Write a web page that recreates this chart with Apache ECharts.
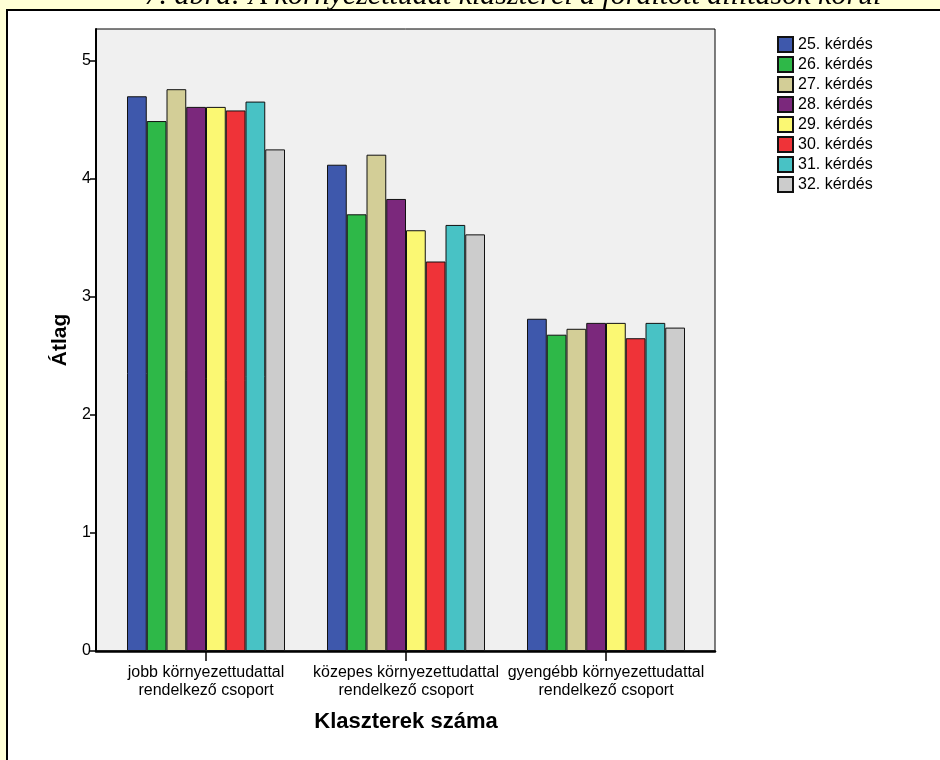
<!DOCTYPE html>
<html>
<head>
<meta charset="utf-8">
<script src="https://cdn.jsdelivr.net/npm/echarts@6/dist/echarts.min.js"></script>
<style>
html,body{margin:0;padding:0;background:#FFFFD6;}
#chart{width:940px;height:760px;}
</style>
</head>
<body>
<div id="chart"></div>
<script>
var titleText = '7. ábra: A környezettudat klaszterei a fordított állítások körül';
var categories = ['jobb környezettudattal\nrendelkező csoport', 'közepes környezettudattal\nrendelkező csoport', 'gyengébb környezettudattal\nrendelkező csoport'];
var seriesNames = ['25. kérdés','26. kérdés','27. kérdés','28. kérdés','29. kérdés','30. kérdés','31. kérdés','32. kérdés'];
var q25 = [4.70, 4.12, 2.815];
var q26 = [4.49, 3.70, 2.68];
var q27 = [4.76, 4.205, 2.73];
var q28 = [4.61, 3.83, 2.78];
var q29 = [4.61, 3.565, 2.78];
var q30 = [4.58, 3.30, 2.65];
var q31 = [4.655, 3.61, 2.78];
var q32 = [4.25, 3.53, 2.74];
var yTicks = [0, 1, 2, 3, 4, 5];
var yMax = 5.27;
var colors = ['#3E58AC','#2EB848','#D3CE97','#7B287C','#FBF873','#EF3338','#48C2C5','#CCCCCC'];

var values = [q25,q26,q27,q28,q29,q30,q31,q32];
var FONT = '"Liberation Sans", Arial, sans-serif';
var chart = echarts.init(document.getElementById('chart'));
var series = seriesNames.map(function(n,i){
  return {
    name: n, type: 'bar', xAxisIndex: 1, yAxisIndex: 1,
    data: values[i], barGap: '0%', barCategoryGap: '21%',
    itemStyle: {color: colors[i], borderColor: '#111', borderWidth: 1},
    emphasis: {disabled: true}
  };
});
chart.setOption({
  backgroundColor: '#FFFFD6',
  animation: false,
  textStyle: {fontFamily: FONT},
  graphic: [
    {type: 'rect', z: -100, shape: {x: 7, y: 10, width: 960, height: 800},
     style: {fill: '#FFFFFF', stroke: '#000000', lineWidth: 2}},
    {type: 'text', z: -50, x: 513, y: 11,
     style: {text: titleText, font: 'italic 30px "Liberation Serif", "Times New Roman", serif',
             fill: '#000', align: 'center', verticalAlign: 'bottom'}}
  ],
  legend: {
    orient: 'vertical', left: 772, top: 31,
    itemWidth: 15, itemHeight: 15, itemGap: 3,
    icon: 'rect',
    textStyle: {fontSize: 16, lineHeight: 16, color: '#000', fontFamily: FONT},
    data: seriesNames
  },
  grid: [
    {left: 96, right: 225, top: 29, bottom: 109, show: true, backgroundColor: '#F0F0F0',
     borderColor: '#000', borderWidth: 1, containLabel: false},
    {left: 106, right: 234, top: 29, bottom: 109, containLabel: false}
  ],
  xAxis: [
    {gridIndex: 0, type: 'category', data: [''], axisLine: {show: true, lineStyle: {color: '#000', width: 2.5}},
     axisTick: {show: false}, axisLabel: {show: false}, splitLine: {show: false}},
    {gridIndex: 1, type: 'category', data: categories,
     axisLine: {show: false},
     axisTick: {show: true, alignWithLabel: true, length: 10, lineStyle: {color: '#000', width: 1.5}},
     axisLabel: {interval: 0, color: '#000', fontSize: 16, lineHeight: 18, margin: 13, fontFamily: FONT},
     name: 'Klaszterek száma', nameLocation: 'middle', nameGap: 60,
     nameTextStyle: {fontSize: 22, fontWeight: 'bold', color: '#000', fontFamily: FONT}}
  ],
  yAxis: [
    {gridIndex: 0, type: 'value', min: 0, max: yMax,
     axisLine: {show: true, lineStyle: {color: '#000', width: 2}},
     axisTick: {show: true, length: 6, customValues: yTicks, lineStyle: {color: '#000', width: 1.5}},
     axisLabel: {customValues: yTicks, color: '#000', fontSize: 16, margin: 5, fontFamily: FONT},
     splitLine: {show: false},
     name: 'Átlag', nameLocation: 'middle', nameGap: 24,
     nameTextStyle: {fontSize: 21, fontWeight: 'bold', color: '#000', fontFamily: FONT}},
    {gridIndex: 1, type: 'value', min: 0, max: yMax, show: false, splitLine: {show: false}}
  ],
  series: series
});
</script>
</body>
</html>
